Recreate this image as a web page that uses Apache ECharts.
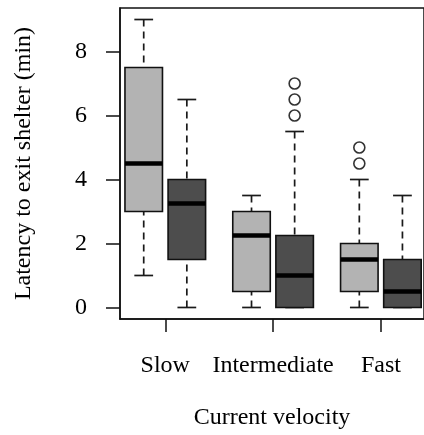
<!DOCTYPE html>
<html>
<head>
<meta charset="utf-8">
<script src="https://cdn.jsdelivr.net/npm/echarts@6/dist/echarts.min.js"></script>
<style>
  html, body { margin: 0; padding: 0; background: #fff; }
  #chart { width: 424px; height: 435px; }
</style>
</head>
<body>
<div id="chart"></div>
<script>
// ---- data ----
const categories = ['Slow', 'Intermediate', 'Fast'];
// five-number summaries: [lower whisker, Q1, median, Q3, upper whisker]
const lightBoxes = [
  [1, 3, 4.5, 7.5, 9],
  [0, 0.5, 2.25, 3, 3.5],
  [0, 0.5, 1.5, 2, 4]
];
const darkBoxes = [
  [0, 1.5, 3.25, 4, 6.5],
  [0, 0, 1, 2.25, 5.5],
  [0, 0, 0.5, 1.5, 3.5]
];
const lightOutliers = [[], [], [4.5, 5]];
const darkOutliers = [[], [6, 6.5, 7], []];
const yTicks = [0, 2, 4, 6, 8];
const yAxisName = 'Latency to exit shelter (min)';
const xAxisName = 'Current velocity';

// ---- layout helpers ----
const groupCenter = i => 1.5 + 2.5 * i;
const xTicks = categories.map((c, i) => groupCenter(i));
const FONT = 'Liberation Serif';
const BOX_W = 0.87;

function boxSeries(boxes, offset, fill) {
  return {
    type: 'custom',
    silent: true,
    clip: false,
    encode: { x: 0, y: [1, 2, 3, 4, 5] },
    data: boxes.map((b, i) => [groupCenter(i) + offset].concat(b)),
    renderItem: function (params, api) {
      const x = api.value(0);
      const lo = api.value(1), q1 = api.value(2), med = api.value(3),
            q3 = api.value(4), hi = api.value(5);
      const w = api.size([BOX_W, 0])[0];
      const pLo = api.coord([x, lo]), pQ1 = api.coord([x, q1]),
            pMed = api.coord([x, med]), pQ3 = api.coord([x, q3]),
            pHi = api.coord([x, hi]);
      const cx = pMed[0];
      const children = [];
      const dash = { stroke: '#1a1a1a', lineWidth: 1.7, lineDash: [7, 5] };
      if (hi > q3) children.push({ type: 'line', shape: { x1: cx, y1: pHi[1], x2: cx, y2: pQ3[1] }, style: dash });
      if (lo < q1) children.push({ type: 'line', shape: { x1: cx, y1: pLo[1], x2: cx, y2: pQ1[1] }, style: dash });
      const capStyle = { stroke: '#1a1a1a', lineWidth: 1.7 };
      children.push({ type: 'line', shape: { x1: cx - w / 4, y1: pHi[1], x2: cx + w / 4, y2: pHi[1] }, style: capStyle });
      children.push({ type: 'line', shape: { x1: cx - w / 4, y1: pLo[1], x2: cx + w / 4, y2: pLo[1] }, style: capStyle });
      children.push({
        type: 'rect',
        shape: { x: cx - w / 2, y: pQ3[1], width: w, height: pQ1[1] - pQ3[1] },
        style: { fill: fill, stroke: '#111', lineWidth: 1.6 }
      });
      children.push({
        type: 'line',
        shape: { x1: cx - w / 2, y1: pMed[1], x2: cx + w / 2, y2: pMed[1] },
        style: { stroke: '#000', lineWidth: 4.5, lineCap: 'butt' }
      });
      return { type: 'group', children: children };
    }
  };
}

function outlierSeries(outs, offset) {
  const data = [];
  outs.forEach((arr, i) => arr.forEach(v => data.push([groupCenter(i) + offset, v])));
  return {
    type: 'scatter',
    silent: true,
    symbol: 'circle',
    symbolSize: 11,
    itemStyle: { color: 'rgba(255,255,255,0)', borderColor: '#000', borderWidth: 1.6 },
    data: data
  };
}

const chart = echarts.init(document.getElementById('chart'), null, { renderer: 'canvas' });
chart.setOption({
  animation: false,
  backgroundColor: '#fff',
  grid: {
    left: 120, top: 8, width: 310.2, height: 311,
    show: true, borderColor: '#111', borderWidth: 1.5, backgroundColor: 'transparent'
  },
  xAxis: {
    type: 'value',
    min: 0.45, max: 7.5,
    name: xAxisName,
    nameLocation: 'middle',
    nameGap: 87,
    nameTextStyle: { fontFamily: FONT, fontSize: 24, color: '#000' },
    axisLine: { show: true, onZero: false, lineStyle: { color: '#111', width: 1.5 } },
    axisTick: { show: true, length: 13, customValues: xTicks, lineStyle: { color: '#111', width: 1.5 } },
    axisLabel: {
      show: true, margin: 35, customValues: xTicks,
      fontFamily: FONT, fontSize: 24, color: '#000',
      formatter: function (v) {
        const i = xTicks.findIndex(t => Math.abs(t - v) < 1e-6);
        return i >= 0 ? categories[i] : '';
      }
    },
    splitLine: { show: false }
  },
  yAxis: {
    type: 'value',
    min: -0.36, max: 9.36,
    name: yAxisName,
    nameLocation: 'middle',
    nameGap: 84,
    nameRotate: 90,
    nameTextStyle: { fontFamily: FONT, fontSize: 24, color: '#000' },
    axisLine: { show: true, lineStyle: { color: '#111', width: 1.5 } },
    axisTick: { show: true, length: 14, customValues: yTicks, lineStyle: { color: '#111', width: 1.5 } },
    axisLabel: {
      show: true, margin: 33, customValues: yTicks,
      fontFamily: FONT, fontSize: 24, color: '#000'
    },
    splitLine: { show: false }
  },
  series: [
    boxSeries(lightBoxes, -0.5, '#b3b3b3'),
    boxSeries(darkBoxes, 0.5, '#4d4d4d'),
    outlierSeries(lightOutliers, -0.5),
    outlierSeries(darkOutliers, 0.5)
  ]
});
</script>
</body>
</html>
